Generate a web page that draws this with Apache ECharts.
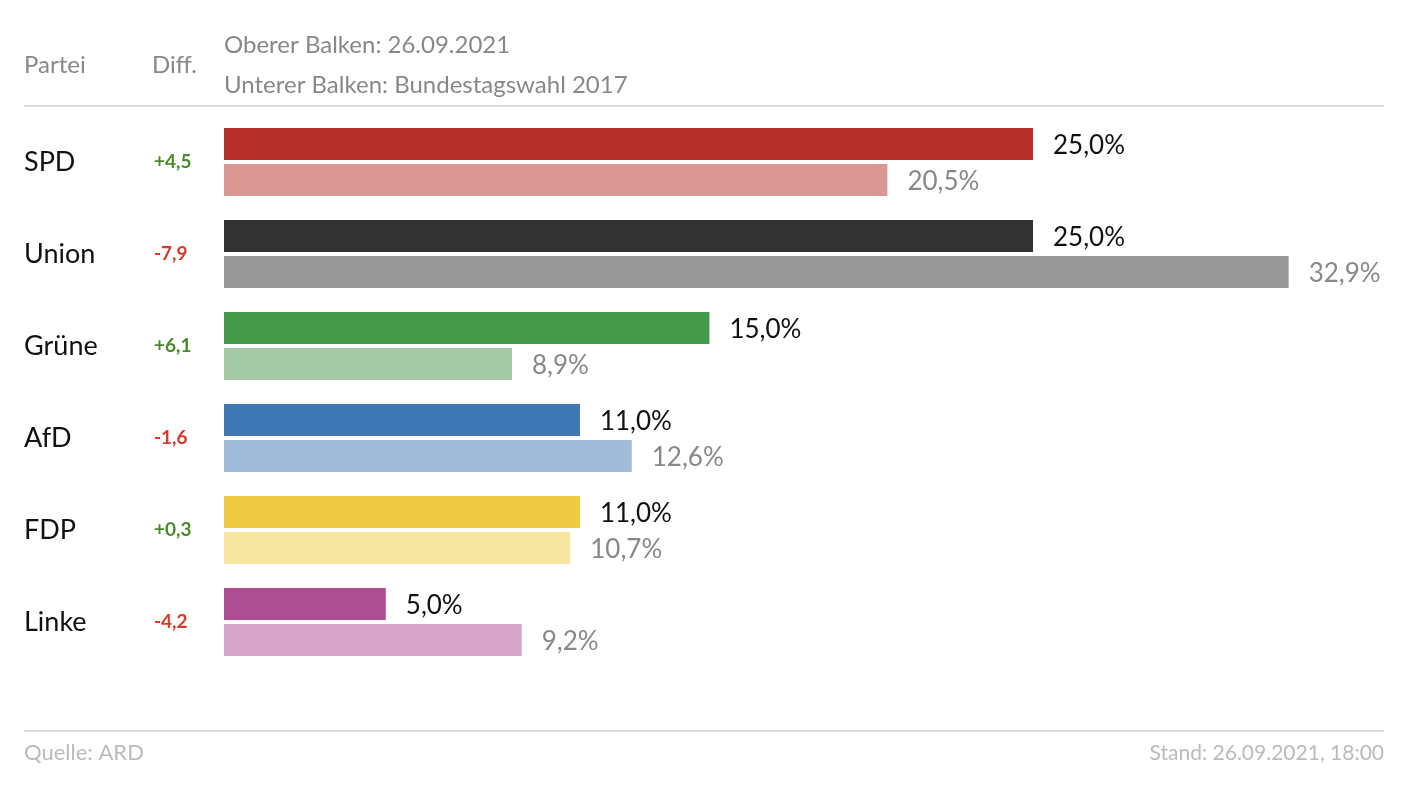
<!DOCTYPE html>
<html>
<head>
<meta charset="utf-8">
<script src="https://cdn.jsdelivr.net/npm/echarts@6/dist/echarts.min.js"></script>
<style>
  html, body { margin: 0; padding: 0; background: #fff; }
  #chart { width: 1426px; height: 786px; }
</style>
</head>
<body>
<div id="chart"></div>
<script>
// Daten
const parteien = ["SPD", "Union", "Grüne", "AfD", "FDP", "Linke"];
const werte2021 = [25.0, 25.0, 15.0, 11.0, 11.0, 5.0];
const werte2017 = [20.5, 32.9, 8.9, 12.6, 10.7, 9.2];
const diffs = ["+4,5", "-7,9", "+6,1", "-1,6", "+0,3", "-4,2"];
const farbenOben = ["#b72f2b", "#333333", "#44994b", "#4078b3", "#f0ca45", "#ad4e90"];
const farbenUnten = ["#d99893", "#999999", "#a5cba6", "#a1bcd8", "#f7e6a0", "#d6a6ca"];

const font = "Lato, 'Noto Sans', sans-serif";
const fmt = (v) => v.toFixed(1).replace(".", ",") + "%";

const chart = echarts.init(document.getElementById("chart"));
chart.setOption({
    animation: false,
    textStyle: { fontFamily: font },
    grid: { left: 224, top: 116, width: 1132.6, height: 552 },
    xAxis: {
        type: "value",
        min: 0,
        max: 35,
        show: false,
    },
    yAxis: {
        type: "category",
        data: parteien,
        inverse: true,
        axisLine: { show: false },
        axisTick: { show: false },
        axisLabel: {
            align: "left",
            margin: 200,
            formatter: (value, idx) => {
                const d = diffs[idx];
                const style = d.startsWith("-") ? "neg" : "pos";
                return "{name|" + value + "}{" + style + "|" + d + "}";
            },
            rich: {
                name: { fontSize: 27, color: "#111", width: 130, fontFamily: font },
                pos: { fontSize: 19, color: "#4a8a2a", fontWeight: "bold", fontFamily: font },
                neg: { fontSize: 19, color: "#d63a2a", fontWeight: "bold", fontFamily: font },
            },
        },
    },
    series: [
        {
            name: "26.09.2021",
            type: "bar",
            data: werte2021.map((v, i) => ({ value: v, itemStyle: { color: farbenOben[i] } })),
            barWidth: 32,
            barGap: "12.5%",
            label: {
                show: true,
                position: "right",
                distance: 20,
                offset: [0, 2],
                fontSize: 26,
                color: "#111",
                fontFamily: font,
                formatter: (p) => fmt(p.value),
            },
        },
        {
            name: "Bundestagswahl 2017",
            type: "bar",
            data: werte2017.map((v, i) => ({ value: v, itemStyle: { color: farbenUnten[i] } })),
            barWidth: 32,
            barGap: "12.5%",
            label: {
                show: true,
                position: "right",
                distance: 20,
                offset: [0, 2],
                fontSize: 26,
                color: "#888",
                fontFamily: font,
                formatter: (p) => fmt(p.value),
            },
        },
    ],
    graphic: [
        { type: "text", left: 24, top: 53, style: { text: "Partei", fontSize: 24, fill: "#888", fontFamily: font } },
        { type: "text", left: 152, top: 53, style: { text: "Diff.", fontSize: 24, fill: "#888", fontFamily: font } },
        { type: "text", left: 224, top: 33, style: { text: "Oberer Balken: 26.09.2021", fontSize: 24, fill: "#888", fontFamily: font } },
        { type: "text", left: 224, top: 73, style: { text: "Unterer Balken: Bundestagswahl 2017", fontSize: 24, fill: "#888", fontFamily: font } },
        { type: "rect", shape: { x: 24, y: 105, width: 1360, height: 2 }, style: { fill: "#dddddd" } },
        { type: "rect", shape: { x: 24, y: 730, width: 1360, height: 2 }, style: { fill: "#dddddd" } },
        { type: "text", left: 24, top: 742, style: { text: "Quelle: ARD", fontSize: 22, fill: "#bbb", fontFamily: font } },
        { type: "text", right: 42, top: 743, style: { text: "Stand: 26.09.2021, 18:00", fontSize: 21, fill: "#bbb", fontFamily: font } },
    ],
});
window.addEventListener("resize", () => chart.resize());
</script>
</body>
</html>
